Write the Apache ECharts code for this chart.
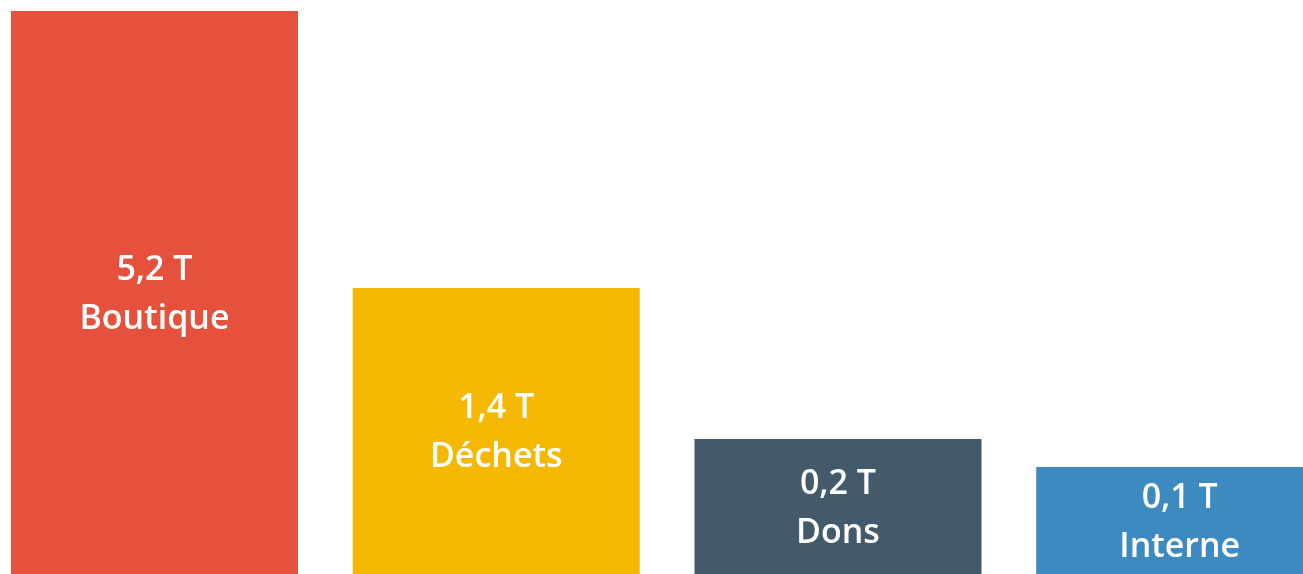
<!DOCTYPE html>
<html>
<head>
<meta charset="utf-8">
<script src="https://cdn.jsdelivr.net/npm/echarts@6/dist/echarts.min.js"></script>
<style>
html,body{margin:0;padding:0;background:#fff;overflow:hidden;}
#c{width:1303px;height:574px;}
</style>
</head>
<body>
<div id="c"></div>
<script>
// Categories and data
const categories = ["Boutique", "Déchets", "Dons", "Interne"];
const tonnes = ["5,2", "1,4", "0,2", "0,1"];
// Visual bar heights (bars are not drawn to scale)
const barSizes = [5.63, 2.86, 1.35, 1.07];
const colors = ["#E6513E", "#F4B800", "#435A6B", "#3D8AC0"];

const chart = echarts.init(document.getElementById('c'), null, {renderer: 'canvas'});
chart.setOption({
  animation: false,
  grid: {left: -16.4, right: -47.6, top: 0, bottom: 0, outerBoundsMode: 'none', containLabel: false},
  xAxis: {
    type: 'category',
    data: categories,
    show: false
  },
  yAxis: {
    type: 'value',
    min: 0,
    max: 5.74,
    show: false
  },
  series: [{
    type: 'bar',
    barWidth: 287,
    data: barSizes.map((v, i) => ({value: v, itemStyle: {color: colors[i]}})),
    label: {
      show: true,
      position: 'inside',
      color: '#fff',
      fontFamily: 'Open Sans',
      fontWeight: 600,
      fontSize: 34,
      lineHeight: 49,
      offset: [0, 2],
      formatter: p => tonnes[p.dataIndex] + ' T\n' + categories[p.dataIndex]
    }
  }]
});
</script>
</body>
</html>
